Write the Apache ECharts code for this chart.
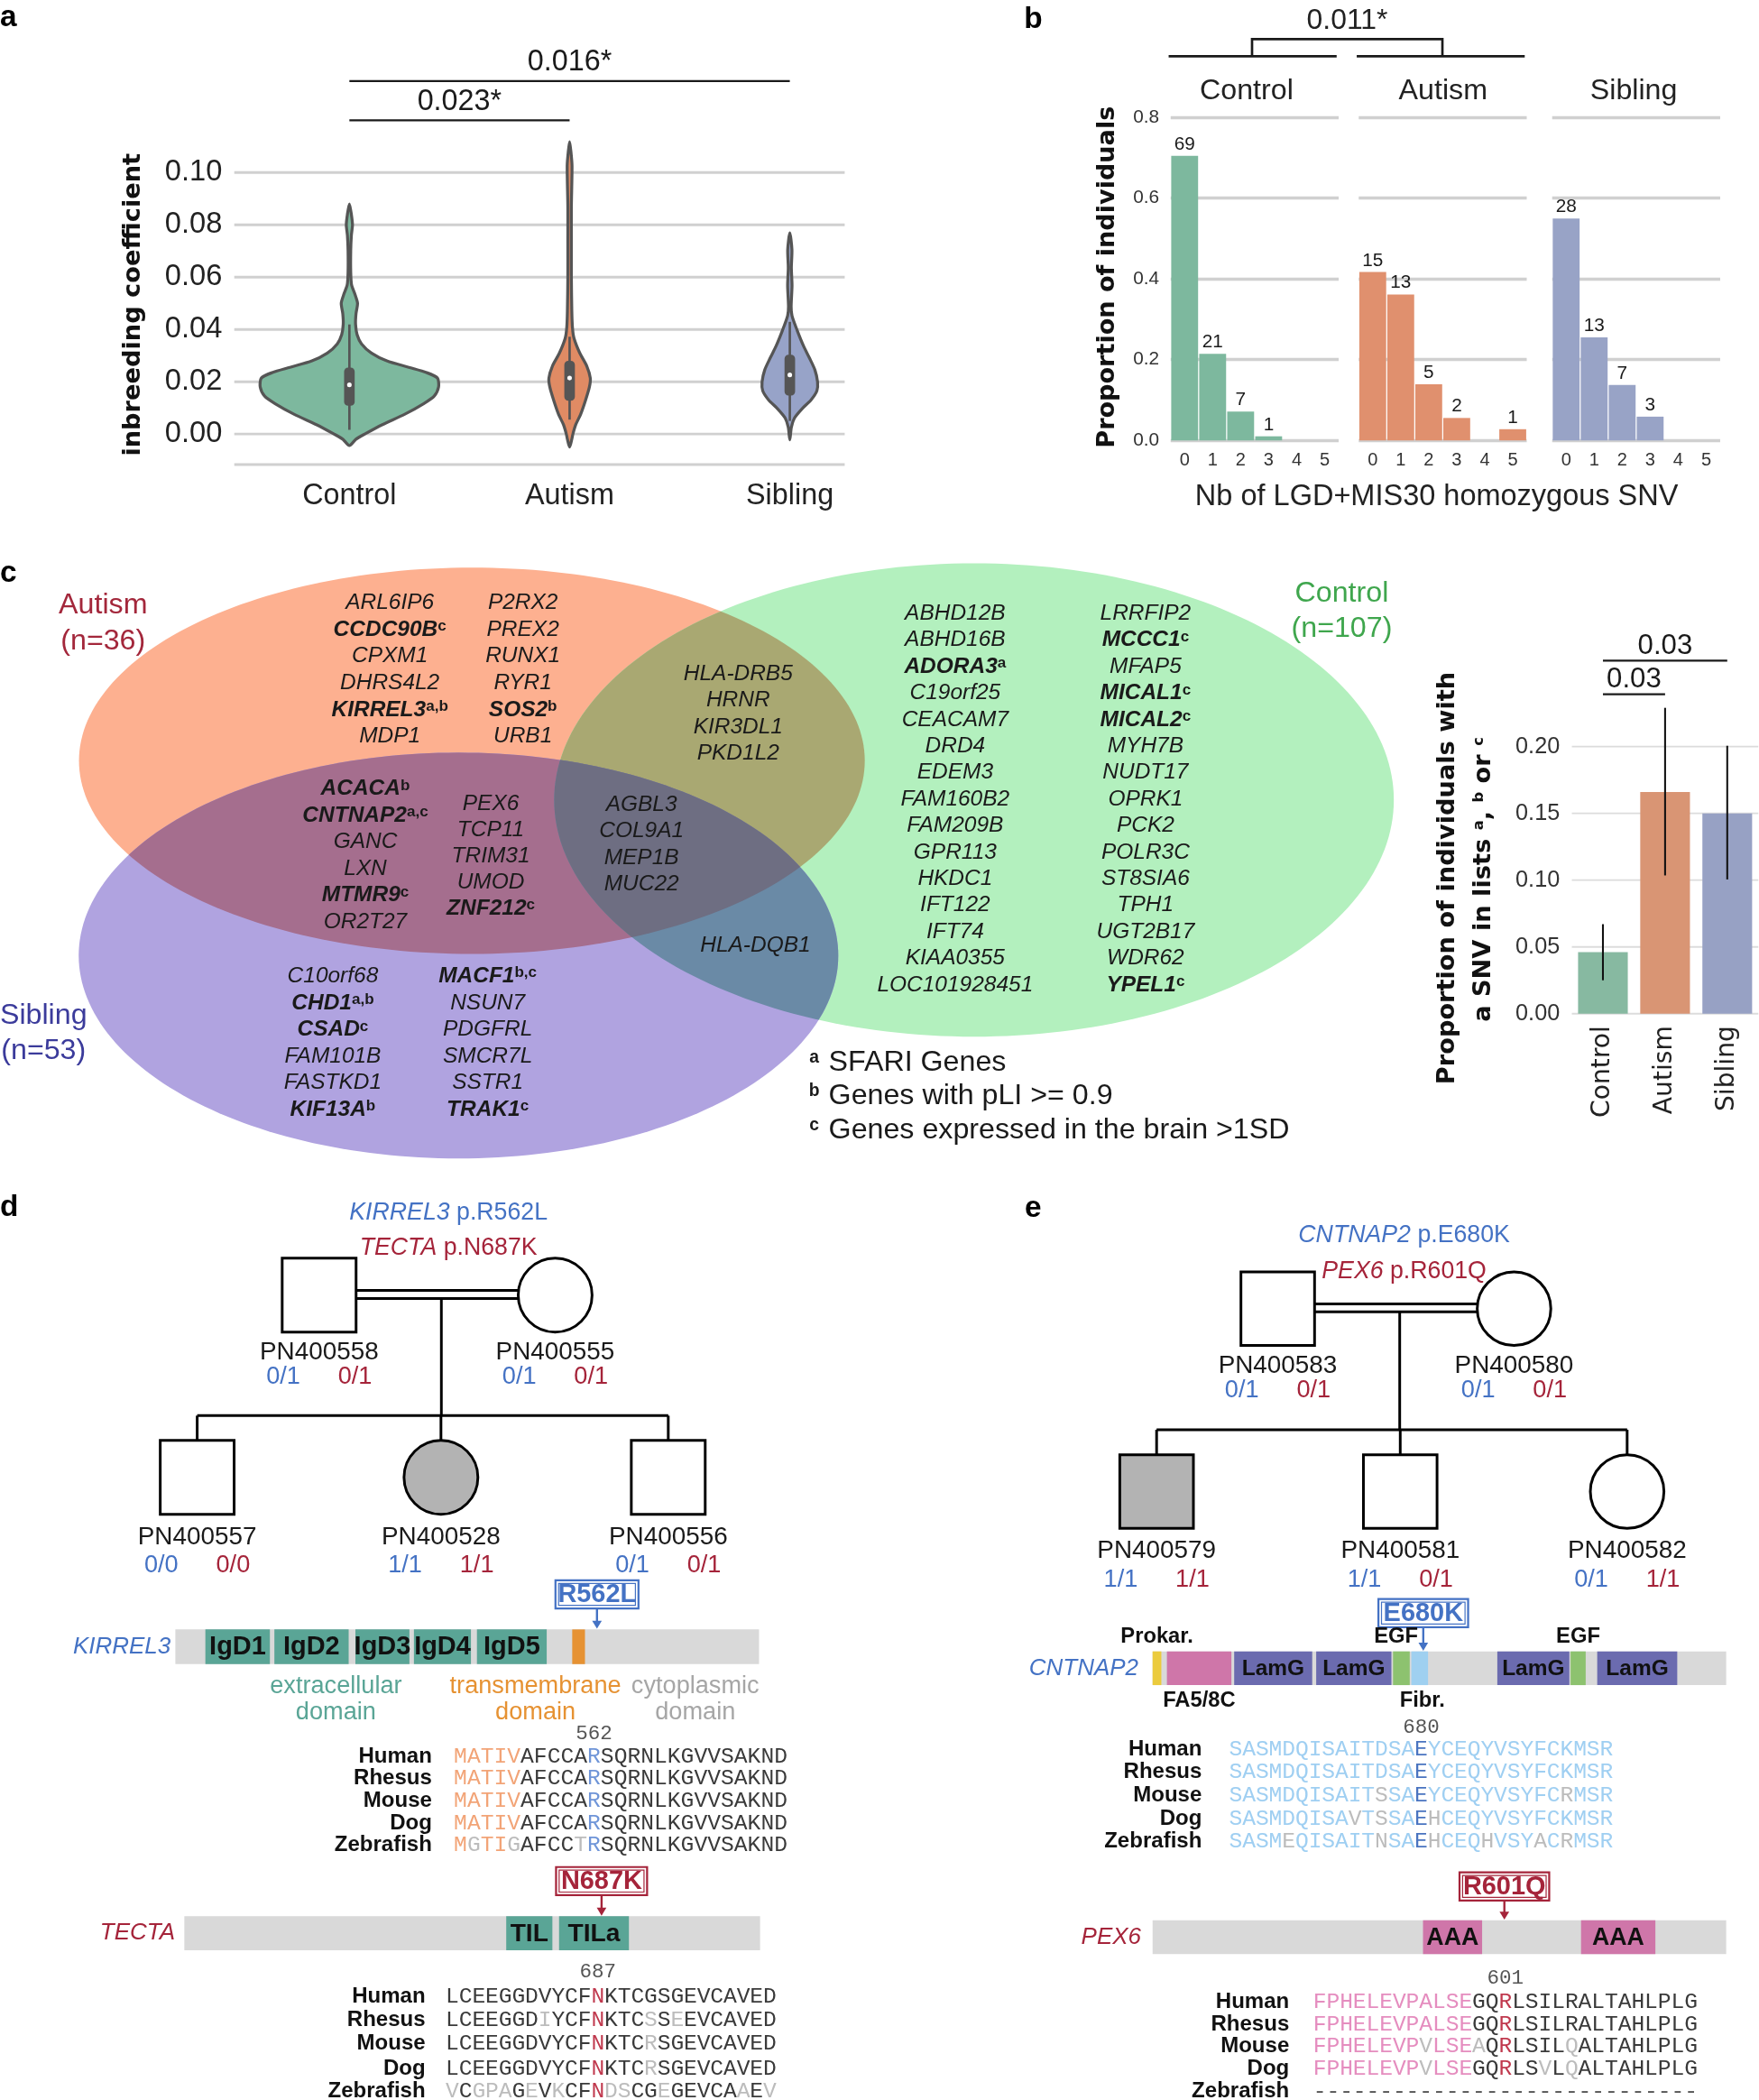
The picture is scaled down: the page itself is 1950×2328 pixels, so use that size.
<!DOCTYPE html>
<html><head><meta charset="utf-8"><title>Figure</title>
<script src="https://cdn.jsdelivr.net/npm/echarts@6.0.0/dist/echarts.min.js"></script>
<style>html,body{margin:0;padding:0;background:#fff;}#chart{width:1950px;height:2328px;}</style>
</head><body><div id="chart"></div>
<script>
// ===================== DATA =====================
const groups = ['Control', 'Autism', 'Sibling'];

// (a) inbreeding coefficient: violin outlines [value, density half-width as share of group spacing]
const inbreedingTicks = [0, 0.02, 0.04, 0.06, 0.08, 0.10];
const violinControl = [[-0.0044,0],[-0.002,0.03],[0,0.07],[0.0036,0.15],[0.0075,0.25],[0.0115,0.335],[0.0145,0.385],[0.018,0.405],[0.0214,0.40],[0.0235,0.35],[0.0255,0.27],[0.028,0.17],[0.031,0.10],[0.0345,0.055],[0.038,0.035],[0.042,0.028],[0.046,0.03],[0.05,0.037],[0.0535,0.025],[0.057,0.01],[0.062,0.006],[0.07,0.006],[0.076,0.009],[0.080,0.014],[0.084,0.009],[0.088,0]];
const violinAutism = [[-0.005,0],[-0.002,0.01],[0,0.015],[0.0036,0.028],[0.0075,0.05],[0.0128,0.072],[0.018,0.09],[0.0214,0.094],[0.026,0.078],[0.031,0.046],[0.0366,0.02],[0.0406,0.013],[0.047,0.01],[0.06,0.008],[0.075,0.008],[0.087,0.008],[0.1026,0.011],[0.108,0.006],[0.1118,0]];
const violinSibling = [[-0.0022,0],[0.0026,0.007],[0.0061,0.021],[0.0096,0.055],[0.013,0.096],[0.0165,0.123],[0.0199,0.126],[0.0245,0.114],[0.0291,0.089],[0.0337,0.062],[0.0395,0.034],[0.0452,0.01],[0.0487,0.006],[0.0567,0.01],[0.0636,0.007],[0.0705,0.0096],[0.0769,0]];
// [lower whisker, Q1, median, Q3, upper whisker]
const boxControl = [0.0016, 0.0108, 0.0188, 0.0254, 0.0419];
const boxAutism  = [0.0055, 0.0127, 0.0214, 0.0280, 0.0372];
const boxSibling = [0.0050, 0.0147, 0.0226, 0.0303, 0.0429];
const inbreedingTests = [['0.023*', 0, 1], ['0.016*', 0, 2]];

// (b) number of LGD+MIS30 homozygous SNV per individual (counts)
const snvCategories = ['0', '1', '2', '3', '4', '5'];
const snvControl = [69, 21, 7, 1, 0, 0];
const snvAutism  = [15, 13, 5, 2, 0, 1];
const snvSibling = [28, 13, 7, 3, 0, 0];
const snvTest = '0.011*';

// (c) proportion of individuals with a SNV in lists a, b or c
const listProportion = [0.046, 0.166, 0.150];
const listLow  = [0.025, 0.1035, 0.1005];
const listHigh = [0.067, 0.229, 0.2006];
const listTicks = [0, 0.05, 0.10, 0.15, 0.20];
const listTests = [['0.03', 0, 1], ['0.03', 0, 2]];

// (c) Venn diagram
const vennSets = [['Autism', '(n=36)'], ['Control', '(n=107)'], ['Sibling', '(n=53)']];
const genesAutismOnlyA = ['ARL6IP6', 'CCDC90B^c', 'CPXM1', 'DHRS4L2', 'KIRREL3^a,b', 'MDP1'];
const genesAutismOnlyB = ['P2RX2', 'PREX2', 'RUNX1', 'RYR1', 'SOS2^b', 'URB1'];
const genesAutismControl = ['HLA-DRB5', 'HRNR', 'KIR3DL1', 'PKD1L2'];
const genesAutismSiblingA = ['ACACA^b', 'CNTNAP2^a,c', 'GANC', 'LXN', 'MTMR9^c', 'OR2T27'];
const genesAutismSiblingB = ['PEX6', 'TCP11', 'TRIM31', 'UMOD', 'ZNF212^c'];
const genesAllThree = ['AGBL3', 'COL9A1', 'MEP1B', 'MUC22'];
const genesSiblingControl = ['HLA-DQB1'];
const genesSiblingOnlyA = ['C10orf68', 'CHD1^a,b', 'CSAD^c', 'FAM101B', 'FASTKD1', 'KIF13A^b'];
const genesSiblingOnlyB = ['MACF1^b,c', 'NSUN7', 'PDGFRL', 'SMCR7L', 'SSTR1', 'TRAK1^c'];
const genesControlOnlyA = ['ABHD12B', 'ABHD16B', 'ADORA3^a', 'C19orf25', 'CEACAM7', 'DRD4', 'EDEM3', 'FAM160B2', 'FAM209B', 'GPR113', 'HKDC1', 'IFT122', 'IFT74', 'KIAA0355', 'LOC101928451'];
const genesControlOnlyB = ['LRRFIP2', 'MCCC1^c', 'MFAP5', 'MICAL1^c', 'MICAL2^c', 'MYH7B', 'NUDT17', 'OPRK1', 'PCK2', 'POLR3C', 'ST8SIA6', 'TPH1', 'UGT2B17', 'WDR62', 'YPEL1^c'];
const footnotes = [['a', 'SFARI Genes'], ['b', 'Genes with pLI >= 0.9'], ['c', 'Genes expressed in the brain >1SD']];

// (d) family with KIRREL3 / TECTA variants: [id, sex, affected, genotype gene1, genotype gene2]
const famDVariants = [['KIRREL3', 'p.R562L'], ['TECTA', 'p.N687K']];
const famDParents = [['PN400558', 'M', false, '0/1', '0/1'], ['PN400555', 'F', false, '0/1', '0/1']];
const famDChildren = [['PN400557', 'M', false, '0/0', '0/0'], ['PN400528', 'F', true, '1/1', '1/1'], ['PN400556', 'M', false, '0/1', '0/1']];
// (e) family with CNTNAP2 / PEX6 variants
const famEVariants = [['CNTNAP2', 'p.E680K'], ['PEX6', 'p.R601Q']];
const famEParents = [['PN400583', 'M', false, '0/1', '0/1'], ['PN400580', 'F', false, '0/1', '0/1']];
const famEChildren = [['PN400579', 'M', true, '1/1', '1/1'], ['PN400581', 'M', false, '1/1', '0/1'], ['PN400582', 'F', false, '0/1', '1/1']];

// proteins: drawn span (aa), domains [label, from, to], mutation [aa position, label, alignment column]
const kirrel3Span = 778;
const kirrel3Domains = [['IgD1', 40, 126], ['IgD2', 132, 231], ['IgD3', 240, 312], ['IgD4', 318, 394], ['IgD5', 402, 495], ['TM', 529, 546]];
const kirrel3Regions = [['extracellular', 'domain', 214], ['transmembrane', 'domain', 480], ['cytoplasmic', 'domain', 693]];
const kirrel3Mutation = [562, 'R562L', 10];
const tectaSpan = 948;
const tectaDomains = [['TIL', 530, 606], ['TILa', 617, 732]];
const tectaMutation = [687, 'N687K', 11];
const cntnap2Span = 1441;
const cntnap2Domains = [['Prokar.', 0, 22], ['FA5/8C', 36, 198], ['LamG', 205, 401], ['LamG', 411, 600], ['EGF', 604, 646], ['Fibr.', 650, 692], ['LamG', 866, 1047], ['EGF', 1050, 1088], ['LamG', 1117, 1318]];
const cntnap2Mutation = [680, 'E680K', 14];
const pex6Span = 980;
const pex6Domains = [['AAA', 462, 563], ['AAA', 732, 859]];
const pex6Mutation = [601, 'R601Q', 14];

const species = ['Human', 'Rhesus', 'Mouse', 'Dog', 'Zebrafish'];
const kirrel3Alignment = ['MATIVAFCCARSQRNLKGVVSAKND', 'MATIVAFCCARSQRNLKGVVSAKND', 'MATIVAFCCARSQRNLKGVVSAKND', 'MATIVAFCCARSQRNLKGVVSAKND', 'MGTIGAFCCTRSQRNLKGVVSAKND'];
const tectaAlignment = ['LCEEGGDVYCFNKTCGSGEVCAVED', 'LCEEGGDIYCFNKTCSSEEVCAVED', 'LCEEGGDVYCFNKTCRSGEVCAVED', 'LCEEGGDVYCFNKTCRSGEVCAVED', 'VCGPAGEVKCFNDSCGEGEVCAAEV'];
const cntnap2Alignment = ['SASMDQISAITDSAEYCEQYVSYFCKMSR', 'SASMDQISAITDSAEYCEQYVSYFCKMSR', 'SASMDQISAITSSAEYCEQYVSYFCRMSR', 'SASMDQISAVTSSAEHCEQYVSYFCKMSR', 'SASMEQISAITNSAEHCEQHVSYACRMSR'];
const pex6Alignment = ['FPHELEVPALSEGQRLSILRALTAHLPLG', 'FPHELEVPALSEGQRLSILRALTAHLPLG', 'FPHELEVPVLSEAQRLSILQALTAHLPLG', 'FPHELEVPVLSEGQRLSVLQALTAHLPLG', '-----------------------------'];
// alignment columns falling inside a highlighted domain [first, last]
const kirrel3AlignDomain = [0, 4];
const tectaAlignDomain = [-1, -1];
const cntnap2AlignDomain = [0, 28];
const pex6AlignDomain = [0, 11];

// ===================== STYLE / LAYOUT =====================
const S = 1950 / 1314;          // layout is measured in a 1314-wide frame
const px = v => v * S;
const SANS = "'Liberation Sans', Arial, Helvetica, sans-serif";
const HEAVY = "'DejaVu Sans', Verdana, sans-serif";
const MONO = "'Liberation Mono', 'Courier New', monospace";
const INK = '#1a1a1a';
const BLUE = '#4472c4';
const RED = '#a5243a';
const GRID = '#d0d0d0';
const GROUP_COLORS = ['#7db89e', '#e08b64', '#97a3c8'];
const SNV_COLORS = ['#7db89e', '#e0906e', '#98a3c6'];
const LIST_COLORS = ['#87b9a1', '#d99574', '#97a1c4'];
const DOMAIN_COLORS = { Ig: '#5aa596', TM: '#e69233', TIL: '#5aa596', Prokar: '#ebcb3e', FA: '#cf76a9', LamG: '#6b6baf', EGF: '#8dc26f', Fibr: '#9fd0f0', AAA: '#cf76a9' };
const kindOf = l => /^IgD/.test(l) ? 'Ig' : /^TIL/.test(l) ? 'TIL' : l === 'TM' ? 'TM' : l === 'Prokar.' ? 'Prokar' : l === 'FA5/8C' ? 'FA' : l === 'Fibr.' ? 'Fibr' : l;
const LABEL_PLACE = { Ig: 'in', TIL: 'in', LamG: 'in', AAA: 'in', TM: 'none', Prokar: 'above', EGF: 'above', FA: 'below', Fibr: 'below' };

const A_X_RANGE = [0.4772, 3.2492];
const A_Y_RANGE = [-0.01167, 0.11183];
const A_TEST_LEVELS = [0.1200, 0.1350];
const C_TEST_LEVELS = [0.2392, 0.2643];
const B_FACETS = [874.5, 1015, 1159.5];

function textEl(x, y, text, o) {
  o = o || {};
  const align = o.align || 'center', va = o.va || 'middle';
  const el = { type: 'text', x: x, y: y, rotation: o.rot || 0, z2: 10,
    style: { text: String(text), fill: o.color || INK, fontSize: px(o.size || 16), fontFamily: o.family || SANS,
      fontWeight: o.bold ? 'bold' : 'normal', fontStyle: o.italic ? 'italic' : 'normal',
      align: align, textAlign: align, verticalAlign: va, textVerticalAlign: va } };
  if (o.rich) el.style.rich = o.rich;
  return el;
}
function lineEl(a, b, w, color) {
  return { type: 'line', shape: { x1: a[0], y1: a[1], x2: b[0], y2: b[1] }, style: { stroke: color || INK, lineWidth: px(w) } };
}

// ---------- panel a renderer ----------
function violinRender(params, api) {
  const C = (x, y) => api.coord([x, y]);
  const kids = [];
  inbreedingTicks.concat([A_Y_RANGE[0]]).forEach(t => kids.push(lineEl(C(A_X_RANGE[0], t), C(A_X_RANGE[1], t), 2, GRID)));
  inbreedingTicks.forEach(t => { const a = C(A_X_RANGE[0], t); kids.push(textEl(a[0] - px(9), a[1], t.toFixed(2), { size: 22, align: 'right', color: '#222' })); });
  groups.forEach((g, i) => { const a = C(i + 1, A_Y_RANGE[0]); kids.push(textEl(a[0], a[1] + px(23.5), g, { size: 21.8, color: '#222' })); });
  [violinControl, violinAutism, violinSibling].forEach((v, i) => {
    const cx = i + 1;
    const right = v.map(d => C(cx + d[1], d[0]));
    const left = v.slice(1, -1).reverse().map(d => C(cx - d[1], d[0]));
    kids.push({ type: 'polygon', shape: { points: right.concat(left), smooth: 0.25 }, style: { fill: GROUP_COLORS[i], stroke: '#555', lineWidth: px(2.2), lineJoin: 'round' } });
    const b = [boxControl, boxAutism, boxSibling][i];
    kids.push(lineEl(C(cx, b[0]), C(cx, b[4]), 1.8, '#555'));
    const p = C(cx - 0.024, b[3]), q = C(cx + 0.024, b[1]);
    kids.push({ type: 'rect', shape: { x: p[0], y: p[1], width: q[0] - p[0], height: q[1] - p[1], r: px(3) }, style: { fill: '#555' } });
    const m = C(cx, b[2]);
    kids.push({ type: 'circle', shape: { cx: m[0], cy: m[1], r: px(1.7) }, style: { fill: '#fff' } });
  });
  inbreedingTests.forEach((t, k) => {
    const a = C(t[1] + 1, A_TEST_LEVELS[k]), b = C(t[2] + 1, A_TEST_LEVELS[k]);
    kids.push(lineEl(a, b, 1.6, INK));
    kids.push(textEl((a[0] + b[0]) / 2, a[1] - px(13.7), t[0], { size: 21.8 }));
  });
  return { type: 'group', children: kids };
}

// ---------- panel c bar extras ----------
function listGridRender(params, api) {
  const cs = params.coordSys, kids = [];
  listTicks.forEach(t => { const y = api.coord([0, t])[1]; kids.push(lineEl([cs.x, y], [cs.x + cs.width, y], 1.3, '#dcdcdc')); });
  return { type: 'group', children: kids };
}
function listErrRender(params, api) {
  const kids = [];
  groups.forEach((g, i) => kids.push(lineEl(api.coord([i, listLow[i]]), api.coord([i, listHigh[i]]), 1.4, '#111')));
  listTests.forEach((t, k) => {
    const a = api.coord([t[1], C_TEST_LEVELS[k]]), b = api.coord([t[2], C_TEST_LEVELS[k]]);
    kids.push(lineEl(a, b, 1.6, INK));
    kids.push(textEl((a[0] + b[0]) / 2, a[1] - px(10.6), t[0], { size: 21 }));
  });
  return { type: 'group', children: kids };
}

// ---------- protein tracks ----------
function trackRender(T) {
  return function (params, api) {
    const cs = params.coordSys, kids = [];
    kids.push({ type: 'rect', shape: { x: cs.x, y: cs.y, width: cs.width, height: cs.height }, style: { fill: '#d9d9d9' } });
    kids.push(textEl(cs.x - px(T.nameGap), cs.y + cs.height / 2, T.name, { size: 17.5, italic: true, align: 'right', color: T.nameColor }));
    T.domains.forEach(d => {
      const kind = kindOf(d[0]);
      const a = api.coord([d[1], 1]), b = api.coord([d[2], 0]);
      kids.push({ type: 'rect', shape: { x: a[0], y: a[1], width: b[0] - a[0], height: b[1] - a[1] }, style: { fill: DOMAIN_COLORS[kind] } });
      const place = LABEL_PLACE[kind], cx = (a[0] + b[0]) / 2;
      if (place === 'in') kids.push(textEl(cx, (a[1] + b[1]) / 2 + px(0.5), d[0], { size: T.domSize, bold: true, color: '#111' }));
      if (place === 'above') kids.push(textEl(cx + px(d[0] === 'EGF' && d[1] < 700 ? -4 : 0), a[1] - px(11), d[0], { size: 16, bold: true, color: '#111' }));
      if (place === 'below') kids.push(textEl(cx + px(d[0] === 'Fibr.' ? 2 : 0), b[1] + px(12), d[0], { size: 16, bold: true, color: '#111' }));
    });
    (T.regions || []).forEach((r, k) => {
      const x = api.coord([r[2], 0])[0], y0 = cs.y + cs.height;
      const col = ['#5aa596', '#e69233', '#a6a6a6'][k];
      kids.push(textEl(x, y0 + px(16.4), r[0], { size: 18.3, color: col }));
      kids.push(textEl(x, y0 + px(36.5), r[1], { size: 18.3, color: col }));
    });
    const m = api.coord([T.mutation[0], 1]);
    const boxB = cs.y - px(T.boxGap), boxT = boxB - px(21), w = px(T.boxW);
    kids.push(lineEl([m[0], boxB], [m[0], cs.y - px(5)], 1.6, T.color));
    kids.push({ type: 'polygon', shape: { points: [[m[0] - px(3.6), cs.y - px(6.5)], [m[0] + px(3.6), cs.y - px(6.5)], [m[0], cs.y - px(0.5)]] }, style: { fill: T.color } });
    kids.push({ type: 'rect', shape: { x: m[0] - w / 2, y: boxT, width: w, height: boxB - boxT }, style: { fill: '#fff', stroke: T.color, lineWidth: px(1.5) } });
    kids.push({ type: 'rect', shape: { x: m[0] - w / 2 + px(2.3), y: boxT + px(2.3), width: w - px(4.6), height: boxB - boxT - px(4.6) }, style: { fill: null, stroke: T.color, lineWidth: px(0.8) } });
    kids.push(textEl(m[0], (boxT + boxB) / 2 + px(0.5), T.mutation[1], { size: 19.5, bold: true, color: T.color }));
    return { type: 'group', children: kids };
  };
}

// ---------- overlay (venn, pedigrees, alignments, titles) ----------
function ellipsePts(e, n) {
  const pts = [];
  for (let k = 0; k < n; k++) { const t = 2 * Math.PI * k / n; pts.push([e[0] + e[2] * Math.cos(t), e[1] + e[3] * Math.sin(t)]); }
  return pts;
}
function clipPoly(subject, clip) {
  let area = 0;
  for (let i = 0; i < clip.length; i++) { const a = clip[i], b = clip[(i + 1) % clip.length]; area += a[0] * b[1] - b[0] * a[1]; }
  const sg = area > 0 ? 1 : -1;
  const inside = (p, a, b) => sg * ((b[0] - a[0]) * (p[1] - a[1]) - (b[1] - a[1]) * (p[0] - a[0])) >= 0;
  const inter = (p, q, a, b) => {
    const A1 = q[1] - p[1], B1 = p[0] - q[0], C1 = A1 * p[0] + B1 * p[1];
    const A2 = b[1] - a[1], B2 = a[0] - b[0], C2 = A2 * a[0] + B2 * a[1];
    const det = A1 * B2 - A2 * B1;
    return [(B2 * C1 - B1 * C2) / det, (A1 * C2 - A2 * C1) / det];
  };
  let out = subject;
  for (let i = 0; i < clip.length && out.length; i++) {
    const a = clip[i], b = clip[(i + 1) % clip.length], inp = out; out = [];
    for (let j = 0; j < inp.length; j++) {
      const p = inp[j], q = inp[(j + 1) % inp.length], pin = inside(p, a, b), qin = inside(q, a, b);
      if (pin) { out.push(p); if (!qin) out.push(inter(p, q, a, b)); }
      else if (qin) out.push(inter(p, q, a, b));
    }
  }
  return out;
}
function geneLabel(g, x, y) {
  const parts = g.split('^');
  if (parts.length === 1) return textEl(x, y, g, { size: 16.5, italic: true });
  return textEl(x, y, '{b|' + parts[0] + '}{s|' + parts[1] + '}', { size: 16.5, italic: true, rich: {
    b: { fontWeight: 'bold', fontStyle: 'italic', fontSize: px(16.5), fontFamily: SANS, fill: INK },
    s: { fontWeight: 'bold', fontStyle: 'normal', fontSize: px(11.5), fontFamily: SANS, fill: INK, verticalAlign: 'top' } } });
}

const VENN_ELLIPSES = { A: [352.5, 568.3, 293.5, 144.3], C: [727.6, 597.6, 313.6, 176.8], S: [342.5, 713.8, 283.7, 151.6] };
const VENN_FILL = { A: '#fdb090', C: '#b3f0be', S: '#b0a3e0', AC: '#a9a872', AS: '#a56e8e', SC: '#6a8aa6', ACS: '#6e6e82' };
const VENN_BLOCKS = [
  [genesAutismOnlyA, 291.2, 450.3, 20.0], [genesAutismOnlyB, 390.6, 450.3, 20.0],
  [genesAutismControl, 551.4, 503.6, 19.7],
  [genesAutismSiblingA, 272.9, 589.3, 19.86], [genesAutismSiblingB, 366.6, 600.4, 19.55],
  [genesAllThree, 479.2, 601.3, 19.77], [genesSiblingControl, 564.3, 706, 20],
  [genesSiblingOnlyA, 248.6, 729.2, 19.96], [genesSiblingOnlyB, 364.3, 729.2, 19.96],
  [genesControlOnlyA, 713.5, 458.4, 19.81], [genesControlOnlyB, 855.7, 458.4, 19.81]
];
const VENN_LABELS = [[77, 452.4, 479.5, '#a3273b'], [1002.3, 443.4, 469.9, '#3fa64d'], [32.5, 758.6, 784.8, '#3b3b9b']];

const PED_D = { titleX: 335, titleY: [905.9, 932.2], parentX: [238.4, 414.7], parentY: 967.5, half: 27.6, marriageY: [964, 970], descentX: 329.7, sibY: 1057.5, childX: [147.3, 329.4, 499.2], childY: 1103.6, pIdY: 1010.1, pGenoY: 1028.7, cIdY: 1148.2, cGenoY: 1169.5, genoDX: 26.8 };
const PED_E = { titleX: 1048.9, titleY: [923.2, 950.1], parentX: [954.5, 1131], parentY: 977.6, half: 27.5, marriageY: [974.1, 980], descentX: 1045.6, sibY: 1068, childX: [864, 1046, 1215.5], childY: 1114.2, pIdY: 1020.2, pGenoY: 1038.8, cIdY: 1158.3, cGenoY: 1180.3, genoDX: 26.8 };

const ALIGN_BLOCKS = [
  { seqs: kirrel3Alignment, dom: kirrel3AlignDomain, mut: kirrel3Mutation, x0: 339, cw: 9.97, rows: [1312, 1328.6, 1345, 1362, 1378], nameRight: 322.7, posY: 1295.3, domColor: '#f2a477', mutColor: '#6f95d8' },
  { seqs: tectaAlignment, dom: tectaAlignDomain, mut: tectaMutation, x0: 333, cw: 9.88, rows: [1491.5, 1509.2, 1526.8, 1545.2, 1562], nameRight: 317.8, posY: 1473.2, domColor: '#3a3a3a', mutColor: '#c0394e' },
  { seqs: cntnap2Alignment, dom: cntnap2AlignDomain, mut: cntnap2Mutation, x0: 918.2, cw: 9.89, rows: [1306.7, 1323.8, 1341.3, 1358.7, 1375.7], nameRight: 897.8, posY: 1290.2, domColor: '#9fcff2', mutColor: '#4a74c0' },
  { seqs: pex6Alignment, dom: pex6AlignDomain, mut: pex6Mutation, x0: 981, cw: 9.9, rows: [1495.8, 1512.2, 1528.7, 1545.7, 1562.2], nameRight: 963.1, posY: 1478, domColor: '#e58dbf', mutColor: '#c0394e' }
];

function drawPedigree(kids, C, variants, parents, children, L) {
  variants.forEach((v, k) => {
    const p = C(L.titleX, L.titleY[k]), col = k ? RED : BLUE;
    kids.push(textEl(p[0], p[1], '{i|' + v[0] + '} ' + v[1], { size: 18, color: col, rich: { i: { fontStyle: 'italic', fontSize: px(18), fontFamily: SANS, fill: col } } }));
  });
  const seg = (pts, w) => kids.push({ type: 'polyline', shape: { points: pts.map(q => C(q[0], q[1])) }, style: { stroke: '#000', lineWidth: px(w || 2), fill: null } });
  const h = L.half;
  seg([[L.parentX[0] + h, L.marriageY[0]], [L.parentX[1] - h, L.marriageY[0]]]);
  seg([[L.parentX[0] + h, L.marriageY[1]], [L.parentX[1] - h, L.marriageY[1]]]);
  seg([[L.descentX, L.marriageY[1]], [L.descentX, L.sibY]]);
  seg([[L.childX[0], L.sibY], [L.childX[L.childX.length - 1], L.sibY]]);
  L.childX.forEach(x => seg([[x, L.sibY], [x, L.childY - h]]));
  const node = (ind, x, y) => {
    const fill = ind[2] ? '#b3b3b3' : '#fff';
    if (ind[1] === 'M') { const a = C(x - h, y - h), b = C(x + h, y + h); kids.push({ type: 'rect', shape: { x: a[0], y: a[1], width: b[0] - a[0], height: b[1] - a[1] }, style: { fill: fill, stroke: '#000', lineWidth: px(2) } }); }
    else { const c = C(x, y); kids.push({ type: 'circle', shape: { cx: c[0], cy: c[1], r: px(h) }, style: { fill: fill, stroke: '#000', lineWidth: px(2) } }); }
  };
  const labels = (ind, x, idY, gY) => {
    let p = C(x, idY); kids.push(textEl(p[0], p[1], ind[0], { size: 18.8 }));
    p = C(x - L.genoDX, gY); kids.push(textEl(p[0], p[1], ind[3], { size: 18.3, color: BLUE }));
    p = C(x + L.genoDX, gY); kids.push(textEl(p[0], p[1], ind[4], { size: 18.3, color: RED }));
  };
  parents.forEach((ind, k) => { node(ind, L.parentX[k], L.parentY); labels(ind, L.parentX[k], L.pIdY, L.pGenoY); });
  children.forEach((ind, k) => { node(ind, L.childX[k], L.childY); labels(ind, L.childX[k], L.cIdY, L.cGenoY); });
}

function overlayRender(params, api) {
  const C = (x, y) => api.coord([x, y]);
  const kids = [];
  const T = (x, y, s, o) => { const p = C(x, y); kids.push(textEl(p[0], p[1], s, o)); };
  const seg = (pts, w) => kids.push({ type: 'polyline', shape: { points: pts.map(q => C(q[0], q[1])) }, style: { stroke: INK, lineWidth: px(w || 1.8), fill: null } });

  // --- Venn regions ---
  const A = ellipsePts(VENN_ELLIPSES.A, 240), Cc = ellipsePts(VENN_ELLIPSES.C, 240), Sb = ellipsePts(VENN_ELLIPSES.S, 240);
  const AC = clipPoly(A, Cc), AS = clipPoly(A, Sb), SC = clipPoly(Sb, Cc), ACS = clipPoly(AC, Sb);
  [[A, 'A'], [Cc, 'C'], [Sb, 'S'], [AC, 'AC'], [AS, 'AS'], [SC, 'SC'], [ACS, 'ACS']].forEach(r => {
    kids.push({ type: 'polygon', shape: { points: r[0].map(q => C(q[0], q[1])) }, style: { fill: VENN_FILL[r[1]] } });
  });
  VENN_BLOCKS.forEach(b => b[0].forEach((g, k) => { const p = C(b[1], b[2] + k * b[3]); kids.push(geneLabel(g, p[0], p[1])); }));
  vennSets.forEach((s, k) => { const L = VENN_LABELS[k]; T(L[0], L[1], s[0], { size: 21.7, color: L[3] }); T(L[0], L[2], s[1], { size: 21.7, color: L[3] }); });
  footnotes.forEach((f, k) => { T(608.2, 790.3 + k * 25.1, f[0], { size: 13, bold: true }); T(619, 794 + k * 25.1, f[1], { size: 21.7, align: 'left' }); });

  // --- panel letters ---
  [['a', 0, 13.5], ['b', 765, 15], ['c', 0, 428.5], ['d', 0, 902], ['e', 765.5, 903]].forEach(l => T(l[1], l[2], l[0], { size: 22.5, bold: true, align: 'left', color: '#000' }));

  // --- axis titles ---
  T(99.5, 227.6, 'inbreeding coefficient', { size: 18.35, bold: true, family: HEAVY, rot: Math.PI / 2, color: '#111' });
  T(827.7, 207, 'Proportion of individuals', { size: 18.25, bold: true, family: HEAVY, rot: Math.PI / 2, color: '#111' });
  T(1073.2, 371.5, 'Nb of LGD+MIS30 homozygous SNV', { size: 21.9, color: '#222' });
  [[931.2, 'Control'], [1078, 'Autism'], [1220.4, 'Sibling']].forEach((s, k) => T(s[0], 68.4, groups[k], { size: 21.7, color: '#222' }));
  T(1081.6, 656, 'Proportion of individuals with', { size: 18.35, bold: true, family: HEAVY, rot: Math.PI / 2, color: '#111' });
  T(1108.7, 657, 'a SNV in lists {s|a}, {s|b} or {s|c}', { size: 18.35, bold: true, family: HEAVY, rot: Math.PI / 2, color: '#111',
    rich: { s: { fontSize: px(11), fontWeight: 'bold', fontFamily: HEAVY, fill: '#111', verticalAlign: 'top' } } });

  // --- panel b bracket ---
  const fw = 125.5;
  seg([[B_FACETS[0] - 1.5, 42], [B_FACETS[0] + fw - 1.5, 42]], 1.8);
  seg([[B_FACETS[1] - 1.5, 42], [B_FACETS[1] + fw - 1.5, 42]], 1.8);
  seg([[935.3, 42], [935.3, 29.2], [1077.5, 29.2], [1077.5, 42]], 1.8);
  T(1006.4, 15.5, snvTest, { size: 21.5, color: '#222' });

  // --- pedigrees ---
  drawPedigree(kids, C, famDVariants, famDParents, famDChildren, PED_D);
  drawPedigree(kids, C, famEVariants, famEParents, famEChildren, PED_E);

  // --- alignments ---
  ALIGN_BLOCKS.forEach(B => {
    const ref = B.seqs[0];
    T(B.x0 + (B.mut[2] + 0.5) * B.cw, B.posY, String(B.mut[0]), { size: 15.2, family: MONO, color: '#555' });
    B.seqs.forEach((seq, r) => {
      T(B.nameRight, B.rows[r], species[r], { size: 16.2, bold: true, align: 'right', color: '#111' });
      for (let i = 0; i < seq.length; i++) {
        const ch = seq[i];
        let col = '#3a3a3a';
        if (ch === '-') col = '#555';
        else if (ch !== ref[i]) col = '#bcbcbc';
        else if (i === B.mut[2]) col = B.mutColor;
        else if (i >= B.dom[0] && i <= B.dom[1]) col = B.domColor;
        T(B.x0 + (i + 0.5) * B.cw, B.rows[r], ch, { size: 16.6, family: MONO, color: col });
      }
    });
  });
  return { type: 'group', children: kids };
}

// ===================== CHART =====================
const chart = echarts.init(document.getElementById('chart'), null, { renderer: 'canvas', width: 1950, height: 2328 });
const G = (l, t, w, h) => ({ left: px(l), top: px(t), width: px(w), height: px(h), containLabel: false, outerBoundsMode: 'none' });
const TRACKS = [
  { name: 'KIRREL3', nameColor: BLUE, color: BLUE, span: kirrel3Span, domains: kirrel3Domains, regions: kirrel3Regions, mutation: kirrel3Mutation, grid: [131, 1217.2, 436, 25.9], nameGap: 3.5, boxGap: 15.7, boxW: 62, domSize: 19.5 },
  { name: 'TECTA', nameColor: RED, color: RED, span: tectaSpan, domains: tectaDomains, mutation: tectaMutation, grid: [137.7, 1431.5, 430.1, 25.4], nameGap: 7, boxGap: 15.8, boxW: 68, domSize: 19 },
  { name: 'CNTNAP2', nameColor: BLUE, color: BLUE, span: cntnap2Span, domains: cntnap2Domains, mutation: cntnap2Mutation, grid: [861, 1233.6, 428.5, 25.2], nameGap: 10.6, boxGap: 18.1, boxW: 67, domSize: 16.5 },
  { name: 'PEX6', nameColor: RED, color: RED, span: pex6Span, domains: pex6Domains, mutation: pex6Mutation, grid: [861, 1434.5, 428.5, 25.2], nameGap: 8.6, boxGap: 14.8, boxW: 67, domSize: 18 }
];

const grids = [G(0, 0, 1314, 2328 / S), G(175, 105.8, 456, 241.2)];
B_FACETS.forEach(l => grids.push(G(l, 87.5, 125.5, 241.5)));
grids.push(G(1174.2, 507.8, 139.3, 249.4));
TRACKS.forEach(t => grids.push(G(t.grid[0], t.grid[1], t.grid[2], t.grid[3])));

const xAxes = [
  { type: 'value', gridIndex: 0, min: 0, max: 1314, show: false },
  { type: 'value', gridIndex: 1, min: A_X_RANGE[0], max: A_X_RANGE[1], show: false }
];
const yAxes = [
  { type: 'value', gridIndex: 0, min: 0, max: 2328 / S, inverse: true, show: false },
  { type: 'value', gridIndex: 1, min: A_Y_RANGE[0], max: A_Y_RANGE[1], show: false }
];
B_FACETS.forEach((l, k) => {
  xAxes.push({ type: 'category', gridIndex: 2 + k, data: snvCategories, axisLine: { show: false }, axisTick: { show: false },
    axisLabel: { fontSize: px(13.5), fontFamily: SANS, color: '#333', margin: px(8) } });
  yAxes.push({ type: 'value', gridIndex: 2 + k, min: 0, max: 0.8, interval: 0.2, axisLine: { show: false }, axisTick: { show: false },
    axisLabel: { show: k === 0, formatter: v => v.toFixed(1), fontSize: px(14), fontFamily: SANS, color: '#333', margin: px(8.5) },
    splitLine: { show: true, lineStyle: { color: GRID, width: px(2.2) } } });
});
xAxes.push({ type: 'category', gridIndex: 5, data: groups, axisLine: { show: false }, axisTick: { show: false },
  axisLabel: { rotate: 90, fontSize: px(19), fontFamily: HEAVY, color: '#222', margin: px(9) } });
yAxes.push({ type: 'value', gridIndex: 5, min: 0, max: 0.25, interval: 0.05, axisLine: { show: false }, axisTick: { show: false },
  axisLabel: { formatter: v => v.toFixed(2), showMaxLabel: false, fontSize: px(17), fontFamily: SANS, color: '#333', margin: px(9) },
  splitLine: { show: false } });
TRACKS.forEach((t, k) => {
  xAxes.push({ type: 'value', gridIndex: 6 + k, min: 0, max: t.span, show: false });
  yAxes.push({ type: 'value', gridIndex: 6 + k, min: 0, max: 1, show: false });
});

const series = [
  { type: 'custom', xAxisIndex: 1, yAxisIndex: 1, data: [[1, 0]], renderItem: violinRender, clip: false, silent: true, z: 3 }
];
[snvControl, snvAutism, snvSibling].forEach((counts, k) => {
  const total = counts.reduce((s, c) => s + c, 0);
  series.push({ type: 'bar', xAxisIndex: 2 + k, yAxisIndex: 2 + k, barCategoryGap: '4%', silent: true, z: 3,
    itemStyle: { color: SNV_COLORS[k] },
    label: { show: true, position: 'top', distance: px(1.5), fontSize: px(14), fontFamily: SANS, color: INK, formatter: p => p.data.count ? String(p.data.count) : '' },
    data: counts.map(c => ({ value: c / total, count: c })) });
});
series.push({ type: 'custom', xAxisIndex: 5, yAxisIndex: 5, data: [[0, 0]], renderItem: listGridRender, clip: false, silent: true, z: 1 });
series.push({ type: 'bar', xAxisIndex: 5, yAxisIndex: 5, barCategoryGap: '20%', silent: true, z: 2,
  data: listProportion.map((v, i) => ({ value: v, itemStyle: { color: LIST_COLORS[i] } })) });
series.push({ type: 'custom', xAxisIndex: 5, yAxisIndex: 5, data: [[0, 0]], renderItem: listErrRender, clip: false, silent: true, z: 4 });
TRACKS.forEach((t, k) => series.push({ type: 'custom', xAxisIndex: 6 + k, yAxisIndex: 6 + k, data: [[0, 0]], renderItem: trackRender(t), clip: false, silent: true, z: 4 }));
series.push({ type: 'custom', xAxisIndex: 0, yAxisIndex: 0, data: [[0, 0]], renderItem: overlayRender, clip: false, silent: true, z: 2 });

chart.setOption({
  backgroundColor: '#ffffff',
  animation: false,
  textStyle: { fontFamily: SANS },
  grid: grids, xAxis: xAxes, yAxis: yAxes, series: series
});
</script></body></html>
